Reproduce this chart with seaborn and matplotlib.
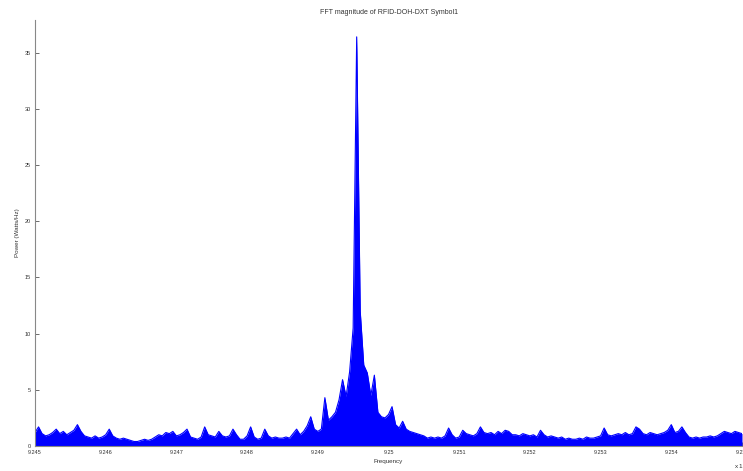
import numpy as np
import pandas as pd
import seaborn as sns
import matplotlib.pyplot as plt

# frequency bins (x 10^9 Hz), 0.00005 spacing from 9.245 to 9.255
freq = np.round(9.245 + 0.00005 * np.arange(201), 5)

# power envelope (Watts/Hz)
power = [
    1.2, 1.7, 1.1, 0.9, 1.0, 1.2, 1.5, 1.1, 1.3, 1.0,
    1.2, 1.4, 1.9, 1.3, 0.9, 0.8, 0.7, 0.9, 0.7, 0.8,
    1.0, 1.5, 0.9, 0.7, 0.6, 0.7, 0.6, 0.5, 0.4, 0.4,
    0.5, 0.6, 0.5, 0.6, 0.8, 1.0, 0.9, 1.2, 1.1, 1.3,
    0.9, 1.0, 1.2, 1.5, 0.8, 0.7, 0.6, 0.8, 1.7, 1.0,
    0.9, 0.8, 1.3, 0.9, 0.8, 0.9, 1.5, 1.0, 0.6, 0.6,
    0.9, 1.7, 0.8, 0.6, 0.7, 1.5, 0.9, 0.7, 0.8, 0.7,
    0.7, 0.8, 0.7, 1.1, 1.5, 1.0, 1.3, 1.8, 2.6, 1.5,
    1.3, 1.5, 4.3, 2.3, 2.6, 3.0, 4.1, 5.9, 4.4, 6.6,
    10.5, 36.4, 12.0, 7.2, 6.5, 4.5, 6.3, 3.0, 2.6, 2.5,
    2.8, 3.5, 1.9, 1.6, 2.2, 1.5, 1.3, 1.2, 1.1, 1.0,
    0.9, 0.7, 0.8, 0.7, 0.8, 0.7, 0.9, 1.6, 1.0, 0.7,
    0.8, 1.4, 1.1, 1.0, 0.9, 1.1, 1.7, 1.2, 1.1, 1.2,
    1.0, 1.3, 1.1, 1.4, 1.3, 1.0, 1.0, 0.9, 1.1, 1.0,
    0.9, 1.0, 0.8, 1.4, 1.0, 0.8, 0.9, 0.8, 0.7, 0.8,
    0.6, 0.7, 0.6, 0.6, 0.7, 0.6, 0.8, 0.7, 0.7, 0.8,
    0.9, 1.6, 1.0, 0.9, 1.0, 1.1, 1.0, 1.2, 1.0, 1.1,
    1.7, 1.5, 1.1, 1.0, 1.2, 1.1, 1.0, 1.1, 1.2, 1.4,
    1.9, 1.2, 1.3, 1.7, 1.2, 0.8, 0.7, 0.8, 0.7, 0.8,
    0.8, 0.9, 0.8, 0.9, 1.1, 1.3, 1.2, 1.1, 1.3, 1.2,
    1.1,
]

xticks = [9.245, 9.246, 9.247, 9.248, 9.249, 9.25, 9.251, 9.252, 9.253, 9.254, 9.255]
xticklabels = ['9.245', '9.246', '9.247', '9.248', '9.249', '9.25', '9.251', '9.252', '9.253', '9.254', '9.255']
yticks = [0, 5, 10, 15, 20, 25, 30, 35]

df = pd.DataFrame({'Frequency': freq, 'Power': power})

sns.set_style('white')
plt.rcParams['font.family'] = ['Liberation Sans', 'DejaVu Sans']

fig = plt.figure(figsize=(7.43, 4.71), dpi=100)
ax = fig.add_axes([35 / 743, 25 / 471, 707 / 743, 426 / 471])

ax.fill_between(df['Frequency'], 0, df['Power'], color='#0000ff', linewidth=0)
sns.lineplot(x='Frequency', y='Power', data=df, ax=ax, color='#0000ff',
             linewidth=0.8, estimator=None, sort=False)

ax.set_xlim(9.245, 9.255)
ax.set_ylim(0, 37.9)
ax.set_xticks(xticks)
ax.set_xticklabels(xticklabels)
ax.set_yticks(yticks)
ax.tick_params(direction='in', length=3, width=0.6, colors='#555555',
               labelsize=4, labelcolor='#333333', pad=3)
ax.tick_params(axis='x', bottom=True)
ax.tick_params(axis='y', left=True)

for s in ['top', 'right']:
    ax.spines[s].set_visible(False)
for s in ['left', 'bottom']:
    ax.spines[s].set_color('#888888')
    ax.spines[s].set_linewidth(0.8)

ax.set_xlabel('Frequency', fontsize=4.5, color='#333333', labelpad=3)
ax.set_ylabel('Power (Watts/Hz)', fontsize=4.5, color='#333333', labelpad=3)
ax.set_title('FFT magnitude of RFID-DOH-DXT Symbol1', fontsize=5, color='#333333', pad=4)

# multiplier in the bottom right corner (cut by the figure edge, as in the source)
fig.text(734 / 743, 1 - 466 / 471, 'x 10$^9$', fontsize=4.5, color='#333333', ha='left', va='center')

plt.savefig('out.png', dpi=100)
